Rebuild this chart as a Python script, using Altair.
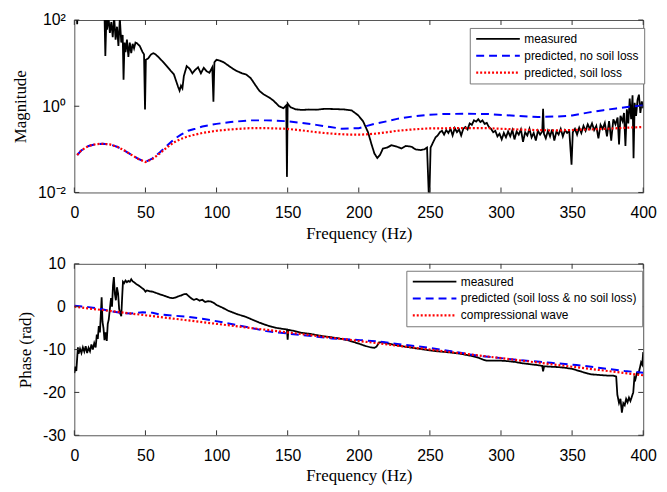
import altair as alt
import pandas as pd

SERIES_TOP = ["measured", "predicted, no soil loss", "predicted, soil loss"]
SERIES_BOT = ["measured", "predicted (soil loss & no soil loss)", "compressional wave"]
COLORS = ["#000000", "#0000ff", "#ff0000"]
DASHES = [[1, 0], [8, 5], [2, 2]]
WIDTHS = [1.8, 2.2, 2.2]

X_TICKS = [0, 50, 100, 150, 200, 250, 300, 350, 400]
MAG_TICKS = [0.01, 1, 100]
PHASE_TICKS = [-30, -20, -10, 0, 10]

# ---- Magnitude (top panel) -------------------------------------------------
mag_measured = [
    (1.5, 300), (2, 80), (2.5, 300), (10, 300), (21, 300), (21.8, 14.6), (22.5, 100),
    (23, 60), (24, 120), (25, 50), (26, 90), (27, 40), (28, 120), (29, 35), (30, 70),
    (31, 25), (32, 110), (33, 30), (34, 45), (34.6, 4.1), (35.3, 30), (36, 18), (37, 35),
    (38, 14), (39, 30), (40, 17), (41, 28), (42, 22), (43, 30), (44, 29), (46, 25),
    (48, 18), (49, 16), (49.7, 0.84), (50.3, 12), (52, 13), (54, 16), (55.5, 17),
    (57, 16), (59, 14), (62, 11), (65, 8.5), (68, 6.5), (70, 5.5), (72, 3.5), (73, 2.8),
    (74, 2.3), (75, 3), (76, 2.6), (77, 5), (79, 8.5), (81, 7.5), (83, 5.8), (85, 7),
    (87, 8), (89, 5.8), (91, 7.8), (93, 6.5), (95, 6.0), (97, 8), (97.8, 1.28),
    (98.5, 10.5), (100, 12), (102, 11.5), (105, 10.5), (110, 8), (114, 6.6), (118, 5.8),
    (121, 5.4), (124, 4.5), (127, 3.2), (130, 2.3), (133, 1.9), (137, 1.6), (140, 1.35),
    (144, 1.0), (147, 0.9), (149, 1.05), (149.5, 0.023), (150, 1.15), (152, 0.95),
    (155.5, 0.85), (160, 0.82), (165, 0.84), (170, 0.83), (176, 0.87), (183, 0.86),
    (190, 0.84), (195, 0.8), (199.5, 0.62), (203, 0.45), (206.5, 0.25), (209, 0.13),
    (211, 0.08), (213, 0.063), (215, 0.075), (217, 0.105), (220, 0.11), (223, 0.125),
    (227, 0.115), (230, 0.105), (233, 0.12), (237, 0.115), (240, 0.1), (243.7, 0.096),
    (246, 0.1), (248, 0.11), (249.5, 0.005), (250.5, 0.11), (252, 0.14), (254, 0.19),
    (255.5, 0.21), (257, 0.25), (258.5, 0.27), (260, 0.22), (261.5, 0.28), (263, 0.24),
    (264.5, 0.3), (266, 0.21), (267.5, 0.31), (269, 0.25), (270.5, 0.29), (272, 0.21),
    (273.5, 0.3), (275, 0.33), (276.5, 0.29), (278, 0.4), (279.5, 0.37), (281, 0.47),
    (282.5, 0.44), (284, 0.5), (285.5, 0.43), (287, 0.47), (288.5, 0.39), (290, 0.41),
    (291.5, 0.33), (293, 0.3), (294.5, 0.25), (296, 0.27), (297.5, 0.2), (299, 0.23),
    (300.5, 0.17), (302, 0.24), (303.5, 0.19), (305, 0.26), (306.5, 0.2), (308, 0.28),
    (309.5, 0.17), (311, 0.26), (312.5, 0.22), (314, 0.29), (315.5, 0.15), (317, 0.25),
    (318.5, 0.21), (320, 0.3), (321.5, 0.19), (323, 0.24), (324.5, 0.16), (326, 0.27),
    (327.5, 0.22), (329, 0.26), (329.6, 0.87), (330.2, 0.23), (331.5, 0.18), (333, 0.27),
    (334.5, 0.2), (336, 0.29), (337.5, 0.16), (339, 0.26), (340.5, 0.22), (342, 0.3),
    (343.5, 0.2), (345, 0.28), (346.5, 0.24), (348, 0.27), (349.6, 0.044), (350.5, 0.25),
    (352, 0.3), (353.5, 0.22), (355, 0.32), (356.5, 0.24), (358, 0.35), (359.5, 0.27),
    (361, 0.38), (362.5, 0.3), (364, 0.4), (365.5, 0.28), (367, 0.35), (368.5, 0.18),
    (370, 0.37), (371.5, 0.3), (373, 0.41), (374.5, 0.2), (376, 0.45), (377.5, 0.16),
    (379, 0.5), (380.5, 0.38), (382, 0.55), (383, 0.13), (384, 0.6), (385.5, 0.45),
    (386.5, 0.7), (387.5, 0.12), (388.5, 0.85), (389.5, 0.4), (390.5, 1.5), (391.5, 0.5),
    (392.5, 1.8), (393.2, 0.062), (394, 1.2), (395, 0.6), (396, 1.4), (397, 1.86),
    (398, 0.7), (399, 1.3), (400, 0.9),
]

mag_no_loss = [
    (2, 0.074), (5, 0.095), (10, 0.12), (15, 0.132), (20, 0.135), (25, 0.13), (30, 0.115),
    (35, 0.095), (40, 0.075), (45, 0.06), (50, 0.051), (55, 0.062), (60, 0.085),
    (65, 0.12), (70, 0.17), (75, 0.22), (80, 0.27), (85, 0.30), (90, 0.34), (100, 0.39),
    (110, 0.43), (123, 0.47), (135, 0.47), (149, 0.45), (160, 0.41), (170, 0.37),
    (180, 0.33), (188, 0.30), (200, 0.31), (211, 0.39), (220, 0.45), (227, 0.51),
    (238, 0.58), (248, 0.63), (260, 0.66), (275, 0.67), (291, 0.66), (310, 0.6),
    (326, 0.56), (340, 0.58), (350, 0.61), (362, 0.72), (372, 0.81), (381, 0.89),
    (390, 0.97), (400, 1.04),
]

mag_soil_loss = [
    (2, 0.074), (5, 0.095), (10, 0.12), (15, 0.132), (20, 0.135), (25, 0.13), (30, 0.115),
    (35, 0.095), (40, 0.075), (45, 0.06), (50, 0.051), (55, 0.06), (60, 0.08),
    (65, 0.11), (70, 0.145), (75, 0.175), (80, 0.2), (85, 0.22), (90, 0.24), (100, 0.27),
    (110, 0.29), (123, 0.31), (135, 0.31), (149, 0.30), (160, 0.275), (170, 0.25),
    (182, 0.23), (193, 0.22), (202, 0.22), (211, 0.23), (220, 0.25), (227, 0.27),
    (238, 0.29), (248, 0.305), (265, 0.31), (291, 0.31), (310, 0.29), (325, 0.28),
    (340, 0.275), (355, 0.285), (374, 0.30), (390, 0.32), (400, 0.33),
]

# ---- Phase (bottom panel) --------------------------------------------------
phase_measured = [
    (0, -15.5), (0.7, -14), (1.4, -15), (2, -12), (2.5, -9.5), (3, -11), (4, -9.8),
    (5, -10.8), (6, -9.5), (7, -10.5), (8, -9.2), (9, -10.8), (10, -9.6), (11, -10.4),
    (12, -8.8), (13, -10), (14, -8.5), (15, -9.5), (15.8, -6.5), (16.5, -7.5),
    (17.2, -4.5), (18, -6), (18.6, -2), (19.2, 2.2), (19.8, -3.5), (20.5, -5),
    (21.2, -7.8), (22, -6), (22.8, -8), (23.5, -4), (24.2, -3), (25, -0.5), (25.8, 2),
    (26.5, 0), (27.2, 5), (27.8, 6.9), (28.5, 3), (29.2, 1.5), (30, 4.5), (30.8, 3),
    (31.5, -0.5), (32.2, -1.5), (33, -2.2), (33.6, 2), (34.2, 5.8), (35, 5.5), (36, 6.1),
    (37, 5.7), (38, 6.0), (39, 5.8), (40, 6.4), (41, 5.9), (42, 5.7), (43.5, 5.3),
    (45, 5.0), (47, 4.5), (49, 4.0), (50, 3.5), (51, 3.8), (53, 3.6), (55, 3.5),
    (57.5, 3.2), (60, 2.9), (62, 2.7), (64.5, 2.4), (67, 2.1), (69, 2.0), (71, 2.1),
    (73, 2.4), (75, 2.6), (77, 2.9), (78.6, 3.0), (80, 2.6), (82, 2.0), (84, 1.6),
    (86, 1.8), (88, 1.4), (90, 1.6), (92, 1.1), (94, 1.3), (96, 1.2), (98, 0.9),
    (100, 0.4), (104, -0.2), (108, -0.9), (111, -1.3), (115, -1.8), (120, -2.3),
    (125, -3.0), (130, -3.7), (135, -4.3), (139, -4.7), (143, -5.0), (147, -5.2),
    (149.5, -5.3), (150, -7.7), (150.5, -5.4), (155, -5.7), (160, -6.1), (165, -6.3),
    (170, -6.6), (175, -6.9), (180, -7.1), (186, -7.4), (192, -7.8), (197, -8.3),
    (201.6, -8.8), (205, -9.2), (208.5, -9.5), (211, -9.6), (212.5, -9.3), (214.4, -8.3),
    (218, -8.4), (225, -8.9), (232, -9.3), (240, -9.7), (248, -10.1), (255, -10.4),
    (262, -10.6), (270, -10.9), (278, -11.4), (284, -11.9), (287, -12.3), (290, -12.6),
    (295, -12.6), (300, -12.6), (305, -12.7), (310, -12.9), (315, -13.2), (320, -13.4),
    (325, -13.6), (329, -13.8), (329.6, -15.1), (330.3, -13.9), (335, -14.0),
    (341, -14.1), (346, -14.3), (350, -14.5), (353, -14.8), (357, -15.2), (361, -15.6),
    (364, -15.8), (368, -15.9), (372, -16.0), (376, -16.1), (379, -16.1), (381, -16.3),
    (381.8, -20.5), (383, -22.5), (384, -21.5), (385, -24.7), (386, -22.5), (387, -23),
    (388, -21.5), (389, -22.3), (390, -21.2), (391, -22), (392, -21), (393, -20),
    (393.8, -16.5), (394.5, -17), (395.5, -15.5), (396.5, -15.8), (397.5, -14.5),
    (398.5, -13), (399.3, -13.5), (400, -10.6),
]

phase_predicted = [
    (0, 0.2), (10, -0.1), (18, -0.5), (25, -1.0), (34, -1.5), (40, -1.6), (48, -1.3),
    (55, -1.4), (60, -1.8), (70, -2.1), (78, -2.3), (90, -2.8), (97, -3.2), (105, -3.7),
    (116, -4.4), (125, -5.0), (135, -5.7), (151, -6.3), (165, -6.8), (181, -7.4),
    (201, -7.8), (213, -8.1), (230, -8.8), (248, -9.5), (265, -10.4), (283, -11.4),
    (300, -12.0), (318, -12.6), (335, -13.1), (353, -13.6), (370, -14.3), (387, -15.0),
    (400, -15.4),
]

phase_compressional = [(0, 0.0), (100, -4.0), (200, -8.0), (300, -12.0), (400, -16.0)]

# ---- layout constants ------------------------------------------------------
W = 574
H_TOP = 174
H_BOT = 173
TL = 5
TICK_COLOR = "#333333"
SANS = "Liberation Sans"
SERIF = "Liberation Serif"


def long_frame(series_names, curves, vname):
    rows = []
    for name, pts in zip(series_names, curves):
        for f, v in pts:
            rows.append({"f": f, vname: v, "series": name})
    return pd.DataFrame(rows)


def legend(lx, ly):
    return alt.Legend(
        orient="none", legendX=lx, legendY=ly, title=None,
        symbolType="stroke", symbolSize=1936, symbolStrokeWidth=2, clipHeight=12,
        labelFont=SANS, labelFontSize=12, labelColor="black", labelOffset=3,
        labelLimit=400, fillColor="white", strokeColor="#777777", padding=5,
        rowPadding=5,
    )


def panel(df, vname, series_names, yscale, yaxis, yticks, H, lx, ly):
    xscale = alt.Scale(domain=[0, 400], nice=False, zero=False)
    xaxis = alt.Axis(values=X_TICKS, title="Frequency (Hz)")
    lines = alt.Chart(df).mark_line(clip=True).encode(
        x=alt.X("f:Q", scale=xscale, axis=xaxis),
        y=alt.Y(f"{vname}:Q", scale=yscale, axis=yaxis),
        color=alt.Color("series:N", scale=alt.Scale(domain=series_names, range=COLORS),
                        legend=legend(lx, ly)),
        strokeDash=alt.StrokeDash("series:N", scale=alt.Scale(domain=series_names, range=DASHES),
                                  legend=legend(lx, ly)),
        strokeWidth=alt.StrokeWidth("series:N", scale=alt.Scale(domain=series_names, range=WIDTHS),
                                    legend=None),
        detail="series:N",
    )
    xt = pd.DataFrame({"t": X_TICKS})
    yt = pd.DataFrame({vname: yticks})
    xb = alt.Chart(xt).mark_rule(color=TICK_COLOR).encode(
        x=alt.X("t:Q", scale=xscale, axis=xaxis), y=alt.value(H), y2=alt.value(H - TL))
    xtop = alt.Chart(xt).mark_rule(color=TICK_COLOR).encode(
        x=alt.X("t:Q", scale=xscale, axis=xaxis), y=alt.value(0), y2=alt.value(TL))
    yl = alt.Chart(yt).mark_rule(color=TICK_COLOR).encode(
        y=alt.Y(f"{vname}:Q", scale=yscale, axis=yaxis), x=alt.value(0), x2=alt.value(TL))
    yr = alt.Chart(yt).mark_rule(color=TICK_COLOR).encode(
        y=alt.Y(f"{vname}:Q", scale=yscale, axis=yaxis), x=alt.value(W), x2=alt.value(W - TL))
    return alt.layer(lines, xb, xtop, yl, yr).properties(width=W, height=H)


df_top = long_frame(SERIES_TOP, [mag_measured, mag_no_loss, mag_soil_loss], "mag")
df_bot = long_frame(SERIES_BOT, [phase_measured, phase_predicted, phase_compressional], "phase")

top = panel(
    df_top, "mag", SERIES_TOP,
    alt.Scale(type="log", domain=[0.01, 100], nice=False),
    alt.Axis(values=MAG_TICKS, title="Magnitude",
             labelExpr="datum.value < 0.1 ? '10⁻²' : (datum.value < 10 ? '10⁰' : '10²')"),
    MAG_TICKS, H_TOP, 399, 8,
)

bot = panel(
    df_bot, "phase", SERIES_BOT,
    alt.Scale(domain=[-30, 10], nice=False, zero=False),
    alt.Axis(values=PHASE_TICKS, title="Phase (rad)", labelExpr="'' + datum.value"),
    PHASE_TICKS, H_BOT, 335, 7,
)

chart = alt.vconcat(top, bot, spacing=13).resolve_scale(
    x="independent", y="independent", color="independent",
    strokeDash="independent", strokeWidth="independent",
).properties(
    padding={"left": 11, "top": 9, "right": 10, "bottom": 2},
    background="white",
).configure_view(
    stroke="#555555", strokeWidth=1,
).configure_axis(
    domain=False, grid=False, ticks=False, labelFlush=False,
    labelFont=SANS, labelFontSize=16, labelColor="black",
    titleFont=SERIF, titleFontSize=17, titleFontWeight="normal", titleColor="black",
).configure_axisX(
    labelPadding=12, titlePadding=5,
).configure_axisY(
    labelPadding=9, titlePadding=8,
)

chart.save("out.html", embed_options={"renderer": "svg", "actions": False})
